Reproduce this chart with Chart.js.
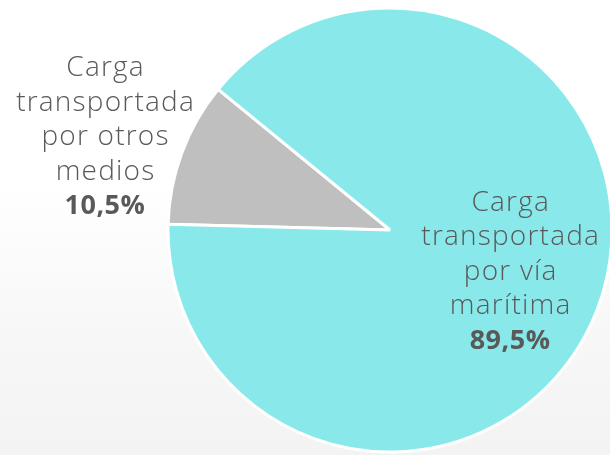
<!DOCTYPE html>
<html>
<head>
<meta charset="utf-8">
<script src="https://cdn.jsdelivr.net/npm/chart.js@4"></script>
<style>
  html, body { margin: 0; padding: 0; }
  body { width: 610px; height: 455px; overflow: hidden;
    background: linear-gradient(to bottom, #ffffff 0%, #ffffff 40%, #f7f7f8 75%, #f3f3f4 100%); }
  #wrap { position: relative; width: 610px; height: 455px; }
</style>
</head>
<body>
<div id="wrap"><canvas id="c" width="610" height="455"></canvas></div>
<script>
const categories = [
  ["Carga", "transportada", "por otros", "medios"],
  ["Carga", "transportada", "por vía", "marítima"]
];
const values = [10.5, 89.5];
const valueLabels = ["10,5%", "89,5%"];
const colors = ["#bfbfbf", "#89e9ea"];

// label block centres, relative to the pie centre, in units of the radius (style config)
const labelAnchor = [{ dx: -1.284, dy: -0.417 }, { dx: 0.541, dy: 0.189 }];

const labelPlugin = {
  id: 'sliceLabels',
  afterDatasetsDraw(chart) {
    const ctx = chart.ctx;
    const meta = chart.getDatasetMeta(0);
    meta.data.forEach((arc, i) => {
      const p = arc.getProps(['x', 'y', 'outerRadius'], true);
      const cx = p.x + labelAnchor[i].dx * p.outerRadius;
      const cy = p.y + labelAnchor[i].dy * p.outerRadius;
      const lines = categories[i];
      const lh = 34.5;
      const total = lines.length + 1;
      const y0 = cy - (total - 1) * lh / 2;
      ctx.save();
      ctx.textAlign = 'center';
      ctx.textBaseline = 'middle';
      ctx.fillStyle = '#595959';
      ctx.font = '300 28px "Open Sans", Lato, sans-serif';
      ctx.letterSpacing = '1.2px';
      lines.forEach((t, k) => ctx.fillText(t, cx + 0.6, y0 + k * lh));
      ctx.font = 'bold 27px "Open Sans", Lato, sans-serif';
      ctx.letterSpacing = '0.5px';
      ctx.fillText(valueLabels[i], cx, y0 + lines.length * lh);
      ctx.restore();
    });
  }
};

new Chart(document.getElementById('c'), {
  type: 'pie',
  data: {
    labels: categories.map(l => l.join(' ')),
    datasets: [{
      data: values,
      backgroundColor: colors,
      borderColor: '#ffffff',
      borderWidth: 3,
      hoverOffset: 0,
      clip: false
    }]
  },
  options: {
    responsive: false,
    animation: false,
    rotation: 271.5,
    radius: 222,
    layout: { padding: { left: 170, right: 0, top: 5, bottom: 0 } },
    plugins: { legend: { display: false }, tooltip: { enabled: false } }
  },
  plugins: [labelPlugin]
});
</script>
</body>
</html>
